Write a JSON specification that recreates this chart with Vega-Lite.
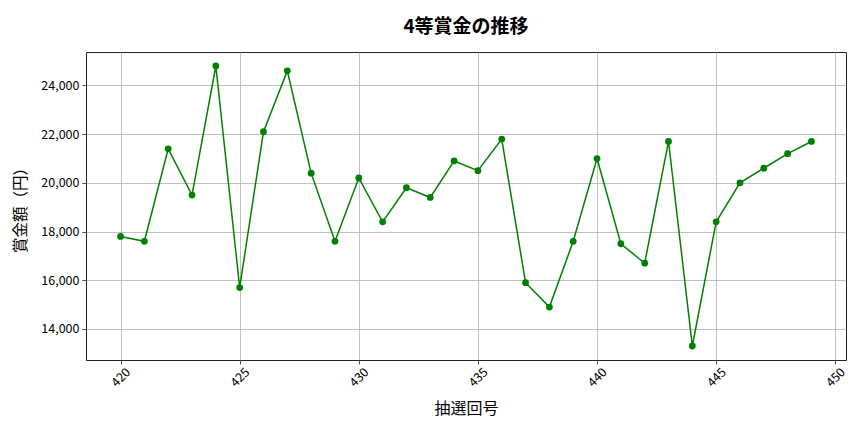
{
  "$schema": "https://vega.github.io/schema/vega-lite/v6.json",
  "background": "white",
  "autosize": "none",
  "padding": {"left": 86, "top": 52, "right": 18, "bottom": 72},
  "width": 760,
  "height": 308,
  "title": {
    "text": "4等賞金の推移",
    "font": "Noto Sans CJK JP",
    "fontSize": 19,
    "fontWeight": "bold",
    "color": "#000",
    "anchor": "middle",
    "offset": 15
  },
  "data": {
    "values": [
      {"draw": 420, "prize": 17800},
      {"draw": 421, "prize": 17600},
      {"draw": 422, "prize": 21400},
      {"draw": 423, "prize": 19500},
      {"draw": 424, "prize": 24800},
      {"draw": 425, "prize": 15700},
      {"draw": 426, "prize": 22100},
      {"draw": 427, "prize": 24600},
      {"draw": 428, "prize": 20400},
      {"draw": 429, "prize": 17600},
      {"draw": 430, "prize": 20200},
      {"draw": 431, "prize": 18400},
      {"draw": 432, "prize": 19800},
      {"draw": 433, "prize": 19400},
      {"draw": 434, "prize": 20900},
      {"draw": 435, "prize": 20500},
      {"draw": 436, "prize": 21800},
      {"draw": 437, "prize": 15900},
      {"draw": 438, "prize": 14900},
      {"draw": 439, "prize": 17600},
      {"draw": 440, "prize": 21000},
      {"draw": 441, "prize": 17500},
      {"draw": 442, "prize": 16700},
      {"draw": 443, "prize": 21700},
      {"draw": 444, "prize": 13300},
      {"draw": 445, "prize": 18400},
      {"draw": 446, "prize": 20000},
      {"draw": 447, "prize": 20600},
      {"draw": 448, "prize": 21200},
      {"draw": 449, "prize": 21700}
    ]
  },
  "mark": {
    "type": "line",
    "color": "#008000",
    "strokeWidth": 1.5,
    "point": {"filled": true, "color": "#008000", "size": 46, "opacity": 1}
  },
  "encoding": {
    "x": {
      "field": "draw",
      "type": "quantitative",
      "title": "抽選回号",
      "scale": {"domain": [418.55, 450.45], "nice": false, "zero": false},
      "axis": {
        "values": [420, 425, 430, 435, 440, 445, 450],
        "format": "d",
        "labelAngle": -45,
        "labelAlign": "center",
        "labelBaseline": "middle",
        "labelPadding": 13,
        "titlePadding": 12,
        "titleFontSize": 16
      }
    },
    "y": {
      "field": "prize",
      "type": "quantitative",
      "title": "賞金額（円）",
      "scale": {"domain": [12725, 25375], "nice": false, "zero": false},
      "axis": {
        "values": [14000, 16000, 18000, 20000, 22000, 24000],
        "format": ",d",
        "labelPadding": 3,
        "titlePadding": 12,
        "titleFontSize": 15.5
      }
    }
  },
  "config": {
    "font": "Noto Sans CJK JP",
    "view": {"stroke": "#222", "strokeWidth": 1},
    "axis": {
      "grid": true,
      "gridColor": "#b0b0b0",
      "gridWidth": 0.8,
      "domain": false,
      "ticks": true,
      "tickSize": 4,
      "tickColor": "#222",
      "tickWidth": 0.8,
      "labelFont": "Noto Sans CJK JP",
      "labelFontSize": 12.5,
      "labelColor": "#000",
      "titleFont": "Noto Sans CJK JP",
      "titleFontWeight": "normal",
      "titleColor": "#000"
    }
  }
}
